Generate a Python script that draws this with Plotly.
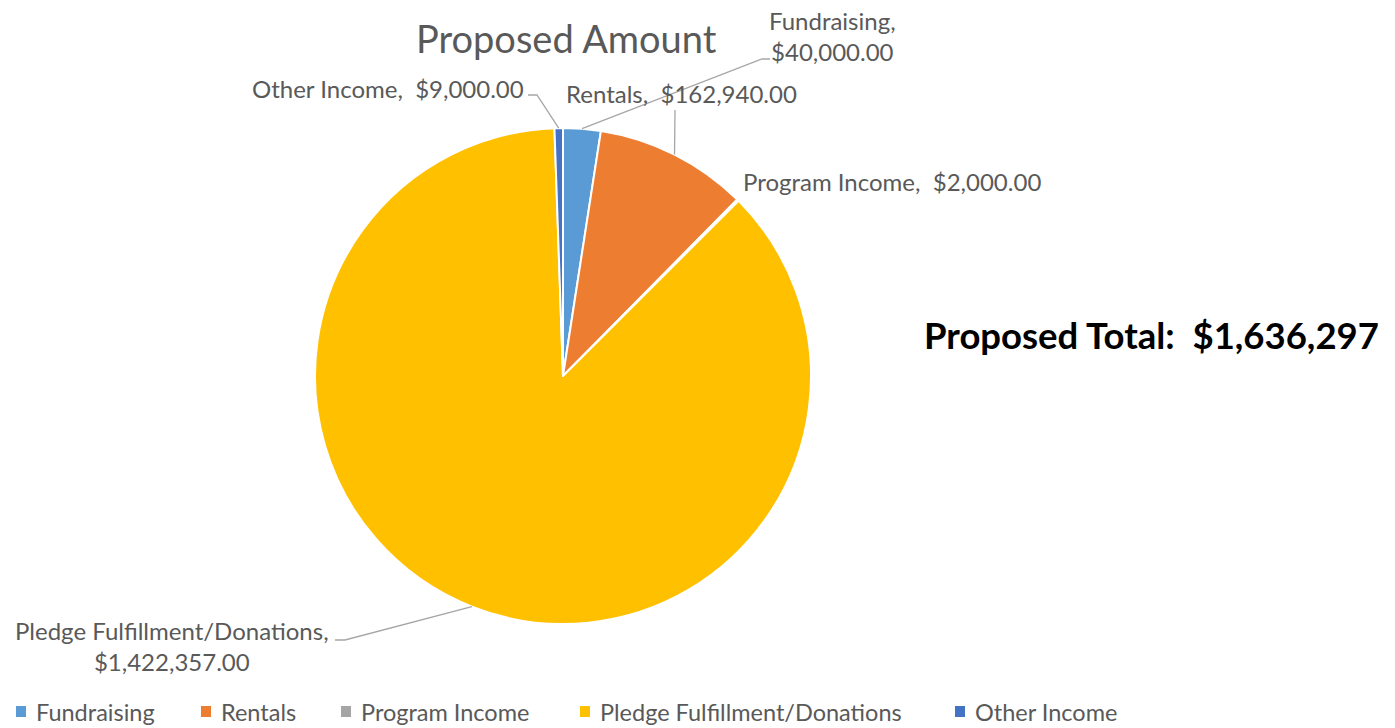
import math
import plotly.graph_objects as go

# ---------------- data ----------------
categories = ["Fundraising", "Rentals", "Program Income",
              "Pledge Fulfillment/Donations", "Other Income"]
amounts = [40000.00, 162940.00, 2000.00, 1422357.00, 9000.00]
colors = ["#5B9BD5", "#ED7D31", "#A5A5A5", "#FFC000", "#4472C4"]
chart_title = "Proposed Amount"
total_caption = "Proposed Total:"

# ---------------- layout constants ----------------
W, H = 1395, 728
CX, CY, R = 563, 376, 248
FONT = "Lato"
GREY = "#595959"


def fx(x):
    return x / W


def fy(y):
    return 1 - y / H


total = sum(amounts)

# label placement (pixels): text anchor + leader line bends
label_layout = {
    "Fundraising": dict(x=832, y=36, xanchor="center", two_lines=True,
                        bends=[(762, 59), (770, 59)]),
    "Rentals": dict(x=681, y=94, xanchor="center", two_lines=False,
                    bends=[(675, 110)]),
    "Program Income": dict(x=741, y=181, xanchor="left", two_lines=False,
                           bends=[]),
    "Pledge Fulfillment/Donations": dict(x=172, y=646, xanchor="center", two_lines=True,
                                         bends=[(345, 640), (335, 640)]),
    "Other Income": dict(x=526, y=88, xanchor="right", two_lines=False,
                         bends=[(537, 95), (528, 95)]),
}

fig = go.Figure(
    go.Pie(
        labels=categories,
        values=amounts,
        sort=False,
        direction="clockwise",
        rotation=0,
        marker=dict(colors=colors, line=dict(color="white", width=2)),
        textinfo="none",
        domain=dict(x=[fx(CX - R), fx(CX + R)], y=[fy(CY + R), fy(CY - R)]),
        showlegend=False,
        hovertemplate="%{label}: %{value:$,.2f}<extra></extra>",
    )
)

annotations = []
shapes = []

# data labels with leader lines from the slice edge at its mid angle
cum = 0.0
for name, val in zip(categories, amounts):
    mid = (cum + val / 2) / total * 2 * math.pi
    cum += val
    ex = CX + R * math.sin(mid)
    ey = CY - R * math.cos(mid)
    lay = label_layout[name]
    if lay["two_lines"]:
        txt = f"{name},<br>${val:,.2f}"
    else:
        txt = f"{name},\u00a0\u00a0${val:,.2f}"
    annotations.append(dict(
        text=txt, x=fx(lay["x"]), y=fy(lay["y"]), xref="paper", yref="paper",
        xanchor=lay["xanchor"], yanchor="middle", showarrow=False, align="center",
        font=dict(family=FONT, size=24, color=GREY),
    ))
    if lay["bends"]:
        pts = [(ex, ey)] + lay["bends"]
        path = "M " + " L ".join(f"{fx(a)},{fy(b)}" for a, b in pts)
        shapes.append(dict(type="path", path=path, xref="paper", yref="paper",
                           line=dict(color="#A6A6A6", width=1.3)))

# title
annotations.append(dict(
    text=chart_title, x=fx(566), y=fy(38), xref="paper", yref="paper",
    xanchor="center", yanchor="middle", showarrow=False,
    font=dict(family=FONT, size=38, color=GREY),
))

# total caption
annotations.append(dict(
    text=f"<b>{total_caption}\u00a0\u00a0${total:,.0f}</b>", x=fx(1381), y=fy(335),
    xref="paper", yref="paper", xanchor="right", yanchor="middle", showarrow=False,
    font=dict(family=FONT, size=36.5, color="black"),
))

# legend (manual, bottom row)
legend_x = [21, 206, 346, 585, 960]
LEG_Y = 712
for name, col, lx in zip(categories, colors, legend_x):
    shapes.append(dict(type="rect", xref="paper", yref="paper",
                       x0=fx(lx - 5), x1=fx(lx + 5), y0=fy(LEG_Y + 5), y1=fy(LEG_Y - 6),
                       fillcolor=col, line=dict(width=0)))
    annotations.append(dict(
        text=name, x=fx(lx + 13), y=fy(LEG_Y), xref="paper", yref="paper",
        xanchor="left", yanchor="middle", showarrow=False,
        font=dict(family=FONT, size=23.5, color=GREY),
    ))

fig.update_layout(
    width=W, height=H,
    margin=dict(l=0, r=0, t=0, b=0),
    paper_bgcolor="white", plot_bgcolor="white",
    annotations=annotations, shapes=shapes,
    showlegend=False,
)

fig.write_html("out.html")
